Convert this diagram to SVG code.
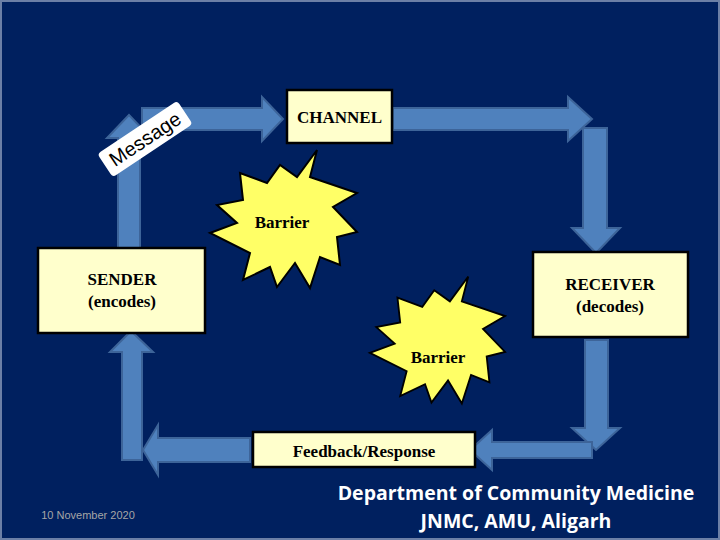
<svg xmlns="http://www.w3.org/2000/svg" width="720" height="540" viewBox="0 0 720 540">
<style>
.arr{fill:#4F81BD;stroke:#3D6499;stroke-width:2;stroke-linejoin:miter}
.box{fill:#FFFFCC;stroke:#000;stroke-width:2.5}
.burst{fill:#FFFF66;stroke:#000;stroke-width:2;stroke-linejoin:miter}
.t{font-family:"Liberation Serif","Times New Roman",serif;font-weight:bold;font-size:17px;fill:#000;text-anchor:middle}
.ft{font-family:"Open Sans","Liberation Sans",sans-serif;font-weight:700;font-size:19.5px;fill:#fff;text-anchor:middle}
</style>
<rect x="0" y="0" width="720" height="540" fill="#00205F"/>
<rect x="1" y="1" width="718" height="538" fill="none" stroke="#6C7FA6" stroke-width="2"/>
<g id="connectors">
  <path class="arr" d="M118,248 V138 H107 L129,115 L151,138 H140 V248 Z"/>
  <path class="arr" d="M142,108 H262 V97 L283,119 L262,141 V130 H142 Z"/>
  <path class="arr" d="M393,108 H568 V97 L592,119 L568,141 V130 H393 Z"/>
  <path class="arr" d="M583,128 H607 V228 H620 L596,253 L572,228 H583 Z"/>
  <path class="arr" d="M585,340 H608 V428 H620 L596,450 L572,428 H585 Z"/>
  <path class="arr" d="M592,442 V458 H492 V470 L470,450 L492,430 V442 Z"/>
  <path class="arr" d="M250,438 V462 H158 V475 L143,450 L158,425 V438 Z"/>
  <path class="arr" d="M122,460 V352 H110 L131,331 L153,352 H142 V460 Z"/>
</g>
<g id="message" transform="translate(145,139) rotate(-33.7)">
  <rect x="-48" y="-14" width="96" height="28" rx="4" fill="#fff"/>
  <text x="0" y="7" font-family="Liberation Sans,Arial,sans-serif" font-size="20" text-anchor="middle" fill="#000">Message</text>
</g>
<g id="channel">
  <rect class="box" x="287" y="90" width="105" height="53"/>
  <text class="t" x="339.5" y="123">CHANNEL</text>
</g>
<g id="sender">
  <rect class="box" x="38" y="248" width="167" height="85"/>
  <text class="t" x="122" y="285">SENDER</text>
  <text class="t" x="122" y="307">(encodes)</text>
</g>
<g id="receiver">
  <rect class="box" x="533" y="252" width="155" height="85"/>
  <text class="t" x="610" y="290">RECEIVER</text>
  <text class="t" x="610" y="312">(decodes)</text>
</g>
<g id="feedback">
  <rect class="box" x="253" y="432" width="222" height="35"/>
  <text class="t" x="364" y="457">Feedback/Response</text>
</g>
<g id="barrier1">
  <path class="burst" d="M317,150 L310,177 L357,193 L333,207 L357,232 L337,237 L340,265 L320,257 L310,288 L295,263 L277,287 L270,267 L243,280 L250,253 L210,233 L237,223 L217,205 L243,200 L240,173 L267,183 L280,165 L297,177 Z"/>
  <text class="t" x="282" y="228">Barrier</text>
</g>
<g id="barrier2">
  <path class="burst" transform="translate(437,340) scale(0.92) translate(-283,-219)" d="M317,150 L310,177 L357,193 L333,207 L357,232 L337,237 L340,265 L320,257 L310,288 L295,263 L277,287 L270,267 L243,280 L250,253 L210,233 L237,223 L217,205 L243,200 L240,173 L267,183 L280,165 L297,177 Z"/>
  <text class="t" x="438" y="363">Barrier</text>
</g>
<g id="footer">
  <text x="88" y="519" font-family="Liberation Sans,Arial,sans-serif" font-size="11" fill="#A6A6A6" text-anchor="middle">10 November 2020</text>
  <text class="ft" x="516" y="500">Department of Community Medicine</text>
  <text class="ft" x="516" y="528">JNMC, AMU, Aligarh</text>
</g>
</svg>
